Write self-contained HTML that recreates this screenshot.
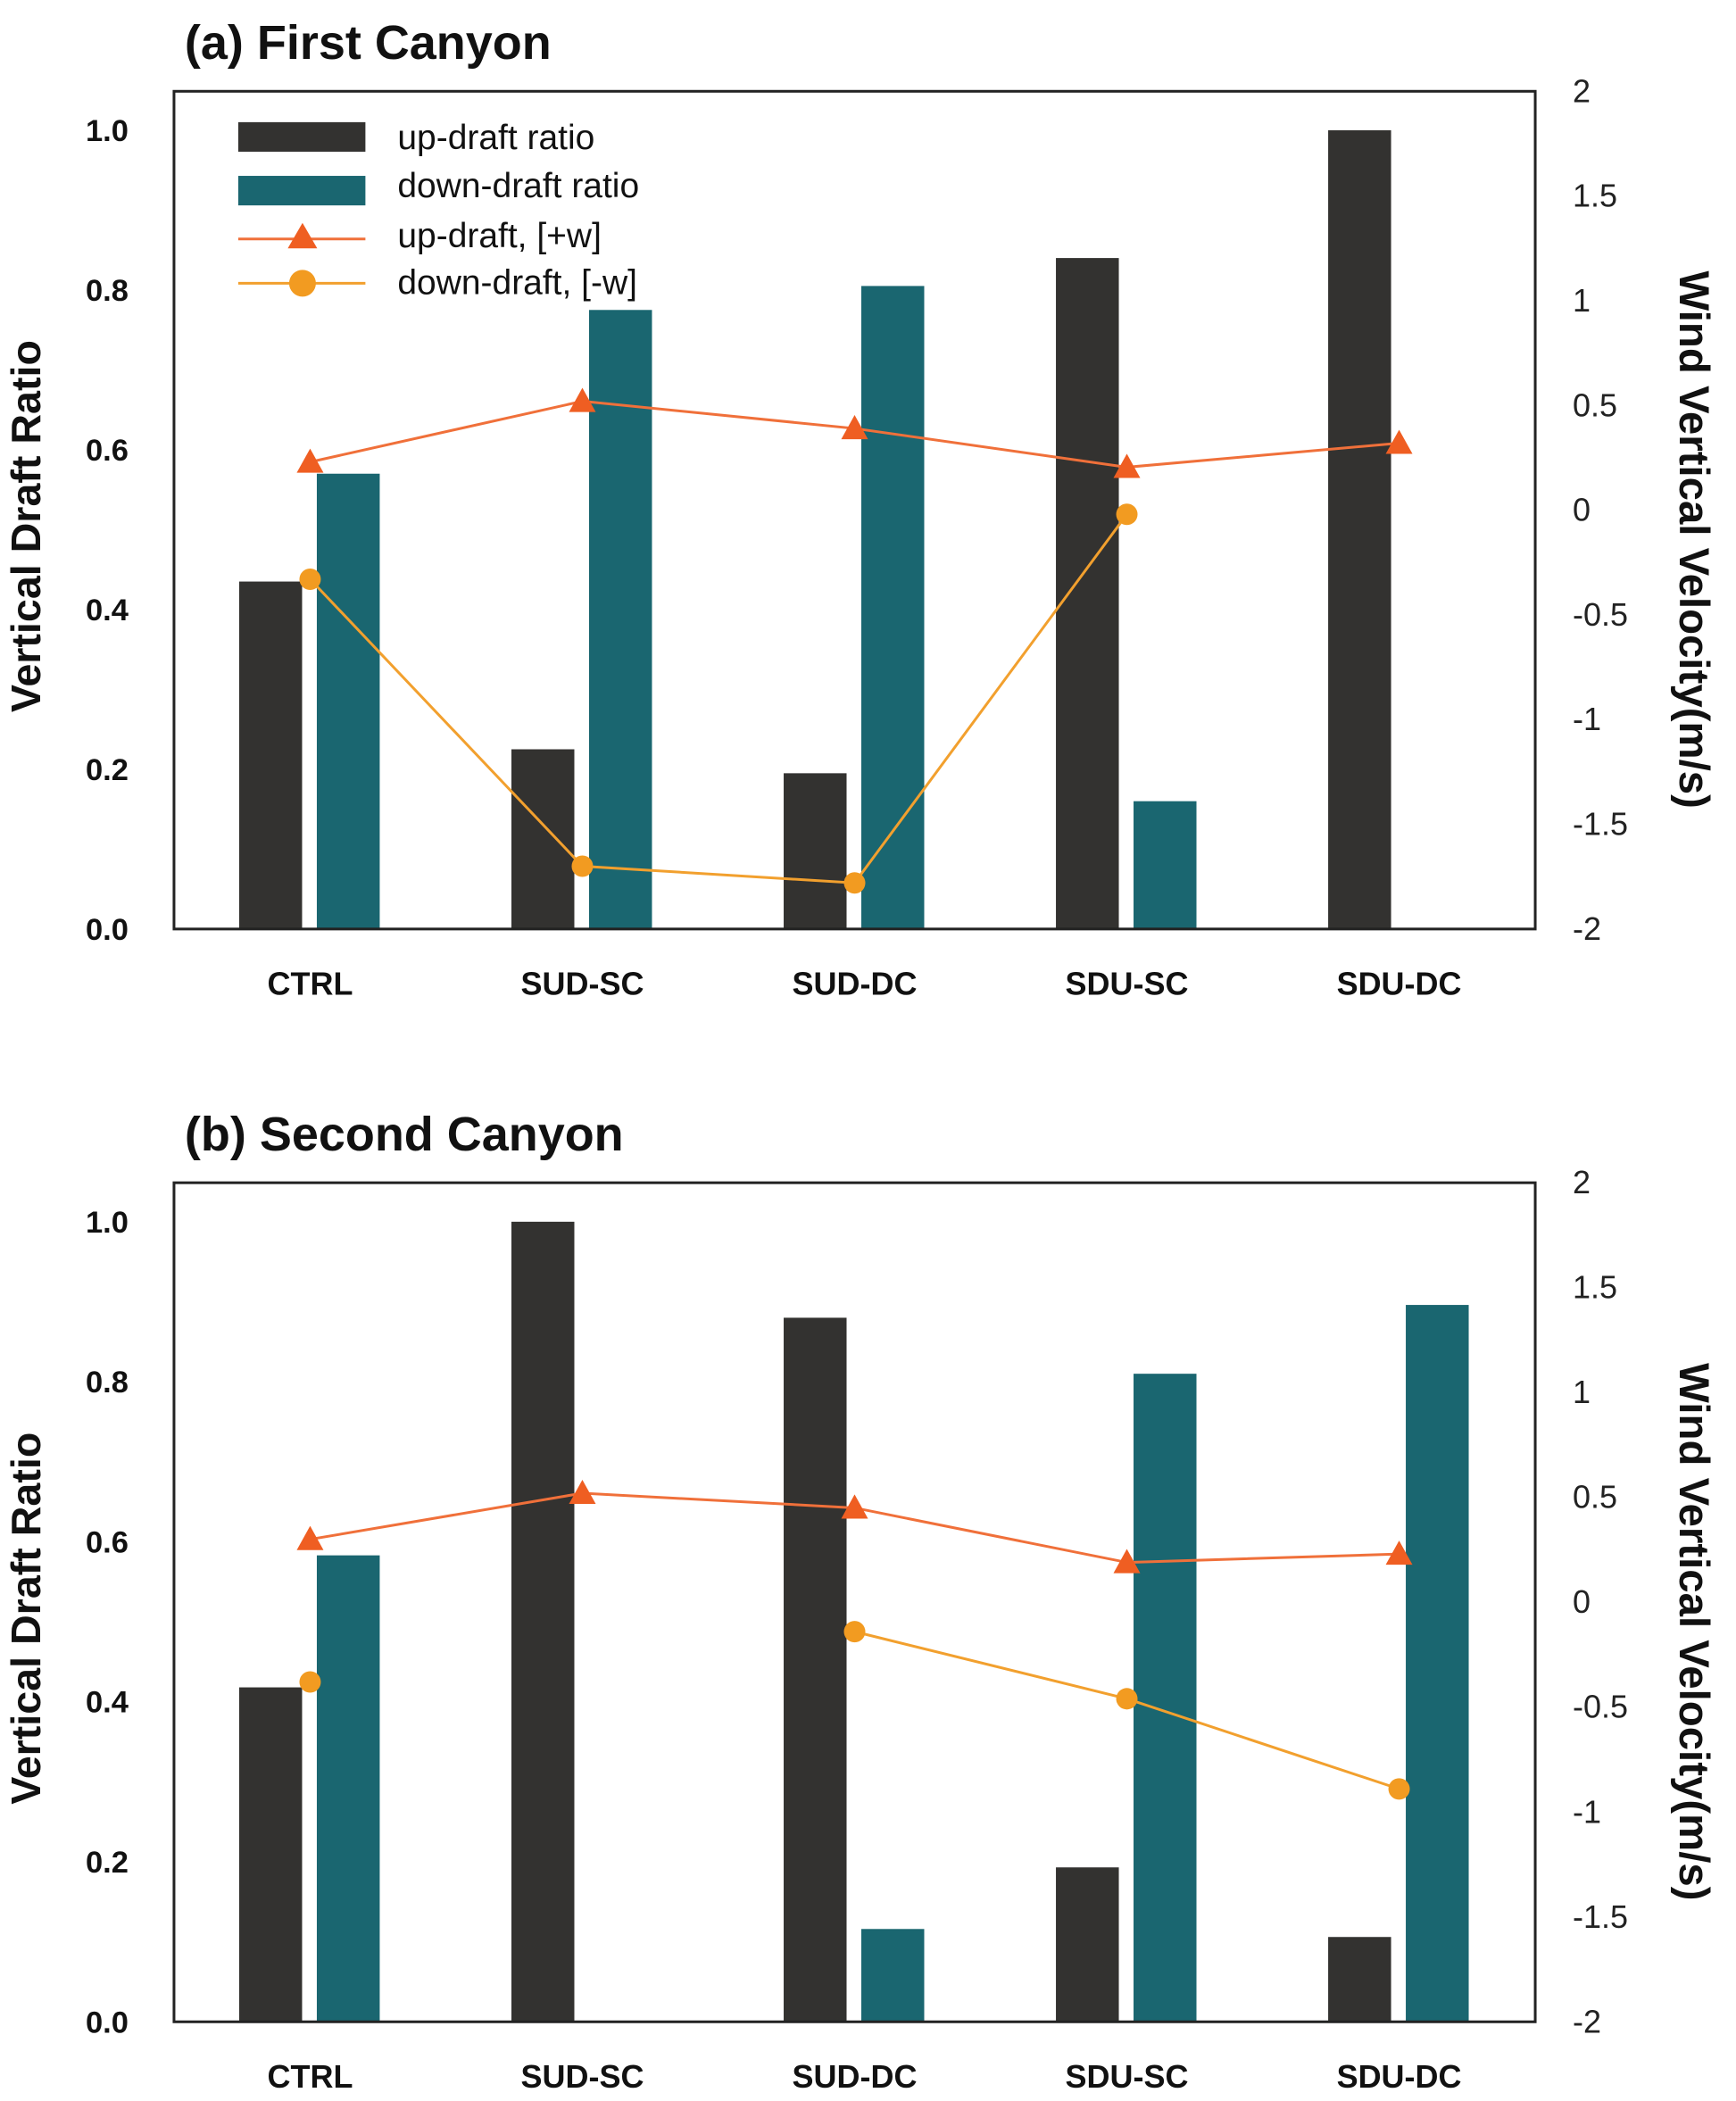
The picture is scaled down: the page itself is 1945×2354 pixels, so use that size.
<!DOCTYPE html>
<html><head><meta charset="utf-8"><style>
html,body{margin:0;padding:0;background:#fff;}
svg{display:block;}
text{font-family:"Liberation Sans",sans-serif;}
</style></head>
<body>
<svg id="fig" width="1945" height="2354" viewBox="0 0 1297 1565" preserveAspectRatio="none" xmlns="http://www.w3.org/2000/svg"></svg>
<script>
const categories = ["CTRL","SUD-SC","SUD-DC","SDU-SC","SDU-DC"];
const upRatioA = [0.435,0.225,0.195,0.84,1.0];
const downRatioA = [0.57,0.775,0.805,0.16,0];
const upVelA = [0.23,0.52,0.39,0.205,0.32];
const downVelA = [-0.33,-1.70,-1.78,-0.02,null];
const upRatioB = [0.418,1.0,0.88,0.193,0.106];
const downRatioB = [0.583,0,0.116,0.81,0.896];
const upVelB = [0.30,0.52,0.45,0.19,0.23];
const downVelB = [-0.38,null,-0.14,-0.46,-0.89];
const leftTicks = ["0.0","0.2","0.4","0.6","0.8","1.0"];
const rightTicks = ["-2","-1.5","-1","-0.5","0","0.5","1","1.5","2"];

const NS="http://www.w3.org/2000/svg";
const svg=document.getElementById('fig');
function mk(tag,attrs,parent){const e=document.createElementNS(NS,tag);for(const k in attrs)e.setAttribute(k,attrs[k]);(parent||svg).appendChild(e);return e;}

function panel(key,title,top,bottom,upR,downR,upV,downV,showLegend){
  const g=mk('g',{});
  
  
  const L=130,R=1147;
  const ratioPerUnit=(bottom-top)*595/624;
  const yR=v=>bottom-v*ratioPerUnit;
  const yV=v=>bottom-(v+2)/4*(bottom-top);
  const step=(R-L)/categories.length;
  const xc=i=>L+step*(i+0.5);
  const t=mk('text',{x:138,y:top-24,'font-size':36,'font-weight':'bold',fill:'#111'},g);t.textContent=title;
  
  
  categories.forEach((c,i)=>{
    if(upR[i]>0){const b=mk('rect',{x:xc(i)-53,y:yR(upR[i]),width:47,height:bottom-yR(upR[i]),fill:'#333230'},g);
      
      }
    if(downR[i]>0){const b=mk('rect',{x:xc(i)+5,y:yR(downR[i]),width:47,height:bottom-yR(downR[i]),fill:'#1a6670'},g);
      
      }
    const lb=mk('text',{x:xc(i),y:bottom+49,'font-size':24,'font-weight':'bold','text-anchor':'middle',fill:'#111'},g);lb.textContent=c;
    
    
  });
  const box=mk('rect',{x:L,y:top,width:R-L,height:bottom-top,fill:'none',stroke:'#222','stroke-width':2},g);
  
  
  leftTicks.forEach(s=>{const e=mk('text',{x:96,y:yR(parseFloat(s))+8,'font-size':23,'font-weight':'bold','text-anchor':'end',fill:'#111'},g);e.textContent=s;
    
    });
  rightTicks.forEach(s=>{const e=mk('text',{x:1175,y:yV(parseFloat(s))+8,'font-size':24,fill:'#222'},g);e.textContent=s;
    
    });
  const my=(top+bottom)/2;
  const yl=mk('text',{x:0,y:0,'font-size':31,'font-weight':'bold','text-anchor':'middle',fill:'#111',transform:`translate(30,${my+12}) rotate(-90)`},g);yl.textContent='Vertical Draft Ratio';
  
  
  const yr=mk('text',{x:0,y:0,'font-size':31.5,'font-weight':'bold','text-anchor':'middle',fill:'#111',transform:`translate(1255,${my+22}) rotate(90)`},g);yr.textContent='Wind Vertical Velocity(m/s)';
  
  
  function series(vals,color,marker,name){
    let segs=[],cur=[];
    vals.forEach((v,i)=>{if(v===null){if(cur.length)segs.push(cur);cur=[];}else cur.push([xc(i),yV(v)]);});
    if(cur.length)segs.push(cur);
    segs.forEach(s=>{if(s.length>1){const p=mk('polyline',{points:s.map(q=>q.join(',')).join(' '),fill:'none',stroke:color,'stroke-width':2},g);
      
      }});
    vals.forEach((v,i)=>{if(v===null)return;const x=xc(i),y=yV(v);let m;
      if(marker==='tri')m=mk('polygon',{points:`${x},${y-10} ${x-10},${y+8} ${x+10},${y+8}`,fill:'#ef5e22'},g);
      else m=mk('circle',{cx:x,cy:y,r:8,fill:'#f29b21'},g);
      
      });
  }
  series(upV,'#f0703a','tri','updraft-velocity');
  series(downV,'#f2a02e','circ','downdraft-velocity');
  if(showLegend){
    const lg=mk('g',{},g);
    
    
    mk('rect',{x:178,y:91,width:95,height:22,fill:'#333230'},lg);
    mk('rect',{x:178,y:131,width:95,height:22,fill:'#1a6670'},lg);
    mk('line',{x1:178,x2:273,y1:178,y2:178,stroke:'#f0703a','stroke-width':2},lg);
    mk('polygon',{points:'226,166 215,185 237,185',fill:'#ef5e22'},lg);
    mk('line',{x1:178,x2:273,y1:211,y2:211,stroke:'#f2a02e','stroke-width':2},lg);
    mk('circle',{cx:226,cy:211,r:10,fill:'#f29b21'},lg);
    [['up-draft ratio',111],['down-draft ratio',147],['up-draft, [+w]',184],['down-draft, [-w]',219]].forEach(([s,y])=>{
      const e=mk('text',{x:297,y:y,'font-size':26,fill:'#111'},lg);e.textContent=s;
      
      });
  }
}
panel('a','(a) First Canyon',68,692,upRatioA,downRatioA,upVelA,downVelA,true);
panel('b','(b) Second Canyon',881,1506,upRatioB,downRatioB,upVelB,downVelB,false);
</script>
</body></html>
